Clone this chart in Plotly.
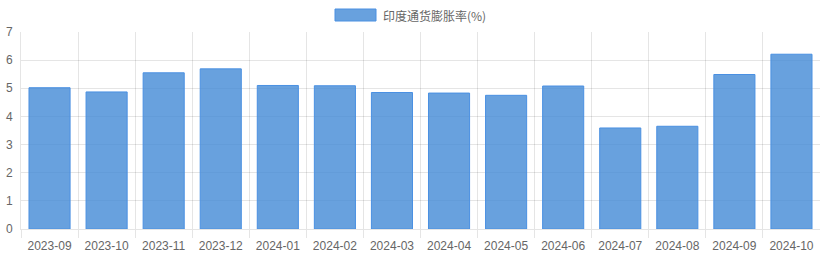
import plotly.graph_objects as go

months = ["2023-09", "2023-10", "2023-11", "2023-12", "2024-01", "2024-02", "2024-03",
          "2024-04", "2024-05", "2024-06", "2024-07", "2024-08", "2024-09", "2024-10"]
inflation = [5.02, 4.87, 5.55, 5.69, 5.10, 5.09, 4.85, 4.83, 4.75, 5.08, 3.59, 3.65, 5.49, 6.21]
series_name = "印度通货膨胀率(%)"
y_ticks = [0, 1, 2, 3, 4, 5, 6, 7]

FONT = "Liberation Sans, Arial, Noto Sans CJK SC, sans-serif"
GRID = "rgba(0,0,0,0.1)"
FILL = "rgba(66,138,214,0.8)"
EDGE = "rgba(74,144,226,1)"

L, R, T, B = 21, 0, 32, 29
PW, PH = 820 - L - R, 258 - T - B

fig = go.Figure()
fig.add_trace(go.Bar(
    x=months, y=inflation, name=series_name,
    marker=dict(color=FILL, line=dict(color=EDGE, width=1)),
    showlegend=False,
))

# legend drawn manually (Chart.js style wide box)
fig.add_shape(type="rect", xref="paper", yref="paper",
              x0=(335 - L) / PW, x1=(376 - L) / PW,
              y0=(258 - B - 21) / PH, y1=(258 - B - 9) / PH,
              fillcolor=FILL, line=dict(color=EDGE, width=1))
fig.add_annotation(text=series_name, xref="paper", yref="paper",
                   x=(381 - L) / PW, y=(258 - B - 15) / PH, xanchor="left", yanchor="middle",
                   showarrow=False, font=dict(family="Noto Sans CJK SC, sans-serif", size=12, color="#666"))

fig.update_layout(
    width=820, height=258,
    margin=dict(l=L, r=R, t=T, b=B),
    paper_bgcolor="white", plot_bgcolor="white",
    bargap=0.28,
    font=dict(family=FONT, size=12, color="#666"),
    xaxis=dict(
        type="category", range=[-0.5, 13.5],
        showgrid=True, gridcolor=GRID, gridwidth=1,
        tickson="boundaries", ticks="outside", ticklen=8, tickcolor=GRID,
        showline=True, linecolor=GRID, linewidth=1,
        ticklabelstandoff=6,
        tickfont=dict(family=FONT, size=12, color="#666"),
    ),
    yaxis=dict(
        range=[0, 7], tickvals=y_ticks,
        showgrid=True, gridcolor=GRID, gridwidth=1,
        zeroline=False,
        showline=True, linecolor=GRID, linewidth=1,
        ticks="", ticklabelstandoff=5,
        tickfont=dict(family=FONT, size=12, color="#666"),
    ),
)

fig.write_html("out.html")
